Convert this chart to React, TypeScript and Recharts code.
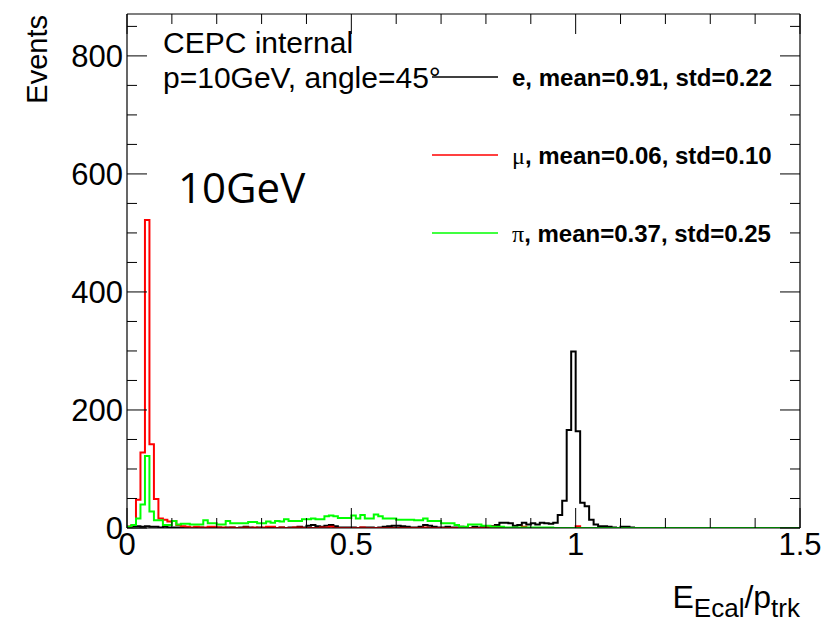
import React from "react";
import { ComposedChart, Line, XAxis, YAxis } from "recharts";

const W = 828;
const H = 623;
const FONT = "'Liberation Sans', Arial, Helvetica, sans-serif";

// histogram bins: 0.00 - 1.50, width 0.01 (150 bins)
const BIN_WIDTH = 0.01;

const electron = [
  2, 3, 3, 2, 3, 2, 2, 1, 2, 1,
  1, 1, 0, 1, 0, 1, 1, 0, 1, 0,
  1, 0, 1, 1, 0, 1, 2, 1, 0, 1,
  0, 1, 1, 0, 1, 0, 1, 1, 2, 1,
  4, 5, 3, 2, 4, 5, 3, 1, 1, 1,
  1, 0, 1, 1, 1, 0, 1, 2, 3, 4,
  4, 3, 2, 1, 1, 2, 5, 4, 2, 1,
  1, 2, 1, 1, 2, 1, 0, 2, 1, 2,
  2, 3, 5, 9, 9, 8, 4, 5, 9, 6,
  8, 6, 9, 8, 7, 9, 22, 46, 166, 299,
  164, 43, 37, 14, 6, 3, 3, 2, 1, 0,
  2, 2, 1, 0, 0, 0, 0, 0, 0, 0,
  0, 0, 0, 0, 0, 0, 0, 0, 0, 0,
  0, 0, 0, 0, 0, 0, 0, 0, 0, 0,
  0, 0, 0, 0, 0, 0, 0, 0, 0, 0,
];

const muon = [
  2, 5, 48, 128, 522, 142, 49, 16, 14, 11,
  12, 5, 3, 2, 1, 2, 1, 1, 2, 2,
  1, 1, 0, 1, 0, 0, 1, 0, 1, 0,
  1, 2, 2, 0, 1, 0, 0, 1, 1, 0,
  0, 0, 0, 1, 1, 2, 0, 0, 0, 0,
  0, 0, 1, 0, 0, 0, 0, 0, 0, 0,
  0, 0, 0, 0, 0, 0, 1, 0, 0, 0,
  0, 0, 0, 0, 0, 0, 0, 0, 0, 0,
  2, 2, 0, 1, 0, 0, 0, 0, 2, 0,
  0, 0, 0, 0, 0, 0, 0, 0, 0, 0,
  3, 0, 0, 0, 0, 0, 0, 0, 0, 0,
  0, 0, 0, 0, 0, 0, 0, 0, 0, 0,
  0, 0, 0, 0, 0, 0, 0, 0, 0, 0,
  0, 0, 0, 0, 0, 0, 0, 0, 0, 0,
  0, 0, 0, 0, 0, 0, 0, 0, 0, 0,
];

const pion = [
  2, 5, 16, 40, 122, 28, 13, 13, 5, 5,
  12, 6, 7, 7, 6, 6, 6, 13, 8, 8,
  6, 6, 12, 8, 8, 8, 8, 10, 10, 8,
  8, 11, 9, 12, 11, 15, 12, 12, 12, 15,
  15, 16, 15, 15, 20, 21, 20, 17, 17, 17,
  21, 16, 22, 16, 16, 23, 20, 16, 16, 16,
  14, 14, 14, 14, 13, 13, 16, 12, 12, 12,
  8, 8, 8, 5, 2, 2, 6, 6, 6, 4,
  4, 2, 2, 2, 1, 1, 1, 1, 1, 1,
  1, 1, 1, 1, 1, 0, 0, 0, 0, 0,
  0, 0, 0, 0, 0, 0, 0, 0, 0, 0,
  0, 0, 0, 0, 0, 0, 0, 0, 0, 0,
  0, 0, 0, 0, 0, 0, 0, 0, 0, 0,
  0, 0, 0, 0, 0, 0, 0, 0, 0, 0,
  0, 0, 0, 0, 0, 0, 0, 0, 0, 0,
];

const xTicks = [0, 0.1, 0.2, 0.3, 0.4, 0.5, 0.6, 0.7, 0.8, 0.9, 1, 1.1, 1.2, 1.3, 1.4, 1.5];
const xLabels = [0, 0.5, 1, 1.5];
const yTicks = [0, 50, 100, 150, 200, 250, 300, 350, 400, 450, 500, 550, 600, 650, 700, 750, 800, 850];
const yLabels = [0, 200, 400, 600, 800];

// first series sits on the top/right axes so those get a domain and draw the frame
const series = [
  { key: "e", symbol: "e", bold: true, color: "#000000", mean: "0.91", std: "0.22", xId: "top", yId: "right" },
  { key: "mu", symbol: "\u03bc", bold: false, color: "#ff0000", mean: "0.06", std: "0.10", xId: "bottom", yId: "left" },
  { key: "pi", symbol: "\u03c0", bold: false, color: "#00ff00", mean: "0.37", std: "0.25", xId: "bottom", yId: "left" },
];

// one row per bin low edge, plus a closing row at the upper edge
const rows = electron.map((_, i) => ({
  x: Number((i * BIN_WIDTH).toFixed(2)),
  e: electron[i],
  mu: muon[i],
  pi: pion[i],
}));
rows.push({ x: 1.5, e: 0, mu: 0, pi: 0 });

const BottomTick = (props: any) => {
  const { x, y, payload } = props;
  const major = xLabels.includes(payload.value);
  return (
    <g>
      <line x1={x} x2={x} y1={y} y2={y - (major ? 20 : 10)} stroke="#000" strokeWidth={1} />
      {major && (
        <text x={x} y={y + 27} textAnchor="middle" fontSize={31} fontFamily={FONT} fill="#000">
          {payload.value}
        </text>
      )}
    </g>
  );
};

const TopTick = (props: any) => {
  const { x, y, payload } = props;
  const major = xLabels.includes(payload.value);
  return <line x1={x} x2={x} y1={y} y2={y + (major ? 20 : 10)} stroke="#000" strokeWidth={1} />;
};

const LeftTick = (props: any) => {
  const { x, y, payload } = props;
  const major = yLabels.includes(payload.value);
  return (
    <g>
      <line x1={x} x2={x + (major ? 20 : 10)} y1={y} y2={y} stroke="#000" strokeWidth={1} />
      {major && (
        <text x={x - 4} y={y + 11} textAnchor="end" fontSize={31} fontFamily={FONT} fill="#000">
          {payload.value}
        </text>
      )}
    </g>
  );
};

const RightTick = (props: any) => {
  const { x, y, payload } = props;
  const major = yLabels.includes(payload.value);
  return <line x1={x} x2={x - (major ? 20 : 10)} y1={y} y2={y} stroke="#000" strokeWidth={1} />;
};

const axisLine = { stroke: "#000", strokeWidth: 1.2 };

export default function App() {
  return (
    <div style={{ position: "absolute", left: 0, top: 0, width: W, height: H, background: "#fff" }}>
      <ComposedChart width={W} height={H} data={rows} margin={{ top: 13, right: 27, bottom: 0, left: 0 }}>
        <XAxis
          xAxisId="bottom"
          orientation="bottom"
          type="number"
          dataKey="x"
          domain={[0, 1.5]}
          allowDataOverflow
          ticks={xTicks}
          interval={0}
          height={95}
          tickSize={0}
          tickMargin={0}
          tickLine={false}
          axisLine={axisLine}
          tick={BottomTick}
        />
        <XAxis
          xAxisId="top"
          orientation="top"
          type="number"
          dataKey="x"
          domain={[0, 1.5]}
          allowDataOverflow
          ticks={xTicks}
          interval={0}
          height={1}
          tickSize={0}
          tickMargin={0}
          tickLine={false}
          axisLine={axisLine}
          tick={TopTick}
        />
        <YAxis
          yAxisId="left"
          orientation="left"
          type="number"
          domain={[0, 871]}
          allowDataOverflow
          ticks={yTicks}
          interval={0}
          width={127}
          tickSize={0}
          tickMargin={0}
          tickLine={false}
          axisLine={axisLine}
          tick={LeftTick}
        />
        <YAxis
          yAxisId="right"
          orientation="right"
          type="number"
          domain={[0, 871]}
          allowDataOverflow
          ticks={yTicks}
          interval={0}
          width={1}
          tickSize={0}
          tickMargin={0}
          tickLine={false}
          axisLine={axisLine}
          tick={RightTick}
        />
        {series.map((s) => (
          <Line
            key={s.key}
            xAxisId={s.xId}
            yAxisId={s.yId}
            type="stepAfter"
            dataKey={s.key}
            stroke={s.color}
            strokeWidth={2}
            dot={false}
            activeDot={false}
            isAnimationActive={false}
          />
        ))}
      </ComposedChart>

      <svg
        width={W}
        height={H}
        style={{ position: "absolute", left: 0, top: 0, pointerEvents: "none" }}
        fontFamily={FONT}
      >
        <text x={163} y={53} fontSize={30} fill="#000">CEPC internal</text>
        <text x={163} y={88} fontSize={30} fill="#000">p=10GeV, angle=45°</text>
        <text x={178} y={203} fontSize={42} fontFamily="'Open Sans', 'Noto Sans', sans-serif" fill="#000">
          10GeV
        </text>

        {series.map((s, i) => {
          const cy = 77 + i * 78;
          return (
            <g key={s.key}>
              <line x1={432} x2={498} y1={cy} y2={cy} stroke={s.color} strokeWidth={1.5} />
              <text x={512} y={cy + 9} fontSize={24} fontWeight="bold" fill="#000">
                <tspan
                  fontWeight={s.bold ? "bold" : "normal"}
                  fontFamily={s.bold ? FONT : "'Liberation Serif', 'DejaVu Serif', serif"}
                >
                  {s.symbol}
                </tspan>
                <tspan>{`, mean=${s.mean}, std=${s.std}`}</tspan>
              </text>
            </g>
          );
        })}

        <text x={47} y={15} transform="rotate(-90 47 15)" textAnchor="end" fontSize={29} fill="#000">
          Events
        </text>

        <text x={800} y={608} textAnchor="end" fontSize={32} fill="#000">
          E
          <tspan fontSize={26} dy={9}>Ecal</tspan>
          <tspan fontSize={32} dy={-9}>/p</tspan>
          <tspan fontSize={26} dy={9}>trk</tspan>
        </text>
      </svg>
    </div>
  );
}
